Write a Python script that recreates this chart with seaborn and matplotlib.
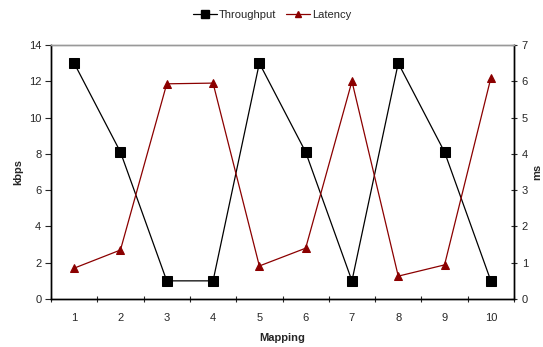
import matplotlib
matplotlib.use("Agg")
import matplotlib.pyplot as plt
import seaborn as sns
import pandas as pd
from matplotlib.lines import Line2D

mapping = [1, 2, 3, 4, 5, 6, 7, 8, 9, 10]
throughput = [13, 8.1, 1, 1, 13, 8.1, 1, 13, 8.1, 1]
latency = [0.85, 1.35, 5.93, 5.95, 0.91, 1.4, 6.0, 0.63, 0.94, 6.09]

df = pd.DataFrame({"Mapping": mapping, "Throughput": throughput, "Latency": latency})

sns.set_style("white")
plt.rcParams["font.family"] = ["Liberation Sans", "DejaVu Sans"]

fig = plt.figure(figsize=(5.43, 3.47), dpi=100)
ax = fig.add_axes([51/543, 1-299/347, (514-51)/543, (299-45)/347])
ax2 = ax.twinx()

thr_color = "black"
lat_color = "#8B0000"

sns.lineplot(data=df, x="Mapping", y="Throughput", ax=ax, color=thr_color, marker="s",
             markersize=7, markeredgecolor=thr_color, linewidth=0.9)
sns.lineplot(data=df, x="Mapping", y="Latency", ax=ax2, color=lat_color, marker="^",
             markersize=5.5, markeredgecolor=lat_color, linewidth=0.9)

ax.set_xlim(0.5, 10.5)
ax.set_ylim(0, 14)
ax2.set_ylim(0, 7)
ax.set_yticks(range(0, 15, 2))
ax2.set_yticks(range(0, 8))
ax.set_xticks(mapping)
ax.set_xticks([i + 0.5 for i in range(0, 11)], minor=True)

for a in (ax, ax2):
    for s in a.spines.values():
        s.set_visible(True)
        s.set_color("black")
        s.set_linewidth(1.0)
    a.spines["top"].set_color("#999999")

ax.tick_params(axis="x", which="major", length=0, labelsize=8, pad=10)
ax.tick_params(axis="x", which="minor", length=4, direction="inout", width=0.8, bottom=True)
ax.tick_params(axis="y", length=4, direction="out", width=0.8, labelsize=8, left=True, pad=3)
ax2.tick_params(axis="y", length=5, direction="inout", width=0.8, labelsize=8, right=True, pad=3)

ax.set_xlabel("Mapping", fontsize=8, fontweight="bold")
ax.set_ylabel("kbps", fontsize=8, fontweight="bold")
ax2.set_ylabel("ms", fontsize=8, fontweight="bold")
ax.xaxis.set_label_coords(0.5, -0.133)
ax.yaxis.set_label_coords(-0.060, 0.5)
ax2.yaxis.set_label_coords(1.040, 0.5)

handles = [
    Line2D([], [], color=thr_color, marker="s", markersize=6, linewidth=0.9),
    Line2D([], [], color=lat_color, marker="^", markersize=4.5, linewidth=0.9),
]
fig.legend(handles, ["Throughput", "Latency"], loc="center", bbox_to_anchor=(272/543, 1-15/347),
           ncol=2, frameon=False, fontsize=8, handlelength=2.2, handletextpad=0.2,
           columnspacing=0.8)

fig.savefig("out.png", dpi=100)
